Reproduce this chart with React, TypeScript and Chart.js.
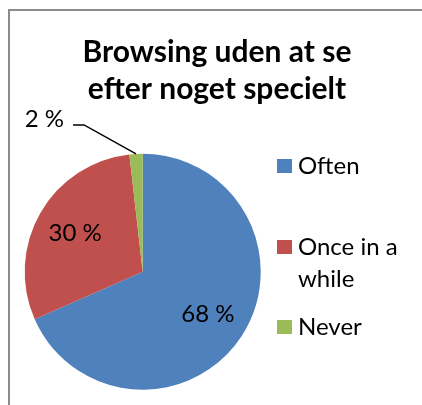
import React, { useEffect, useRef } from "react";
import { Chart, registerables } from "chart.js";

Chart.register(...registerables);

const titleLines = ["Browsing uden at se", "efter noget specielt"];
const categories = ["Often", "Once in a while", "Never"];
const legendLines = [["Often"], ["Once in a", "while"], ["Never"]];
const values = [68.4, 29.8, 1.8];
const valueLabels = ["68 %", "30 %", "2 %"];
const colors = ["#4F81BD", "#C0504D", "#9BBB59"];

const FONT = "Lato, 'Open Sans', sans-serif";

const overlay = {
  id: "overlay",
  afterDraw(chart: any) {
    const ctx = chart.ctx as CanvasRenderingContext2D;
    ctx.save();
    // title
    ctx.fillStyle = "#000";
    ctx.textAlign = "center";
    ctx.textBaseline = "alphabetic";
    ctx.font = `bold 30px ${FONT}`;
    ctx.fillText(titleLines[0], 207, 51);
    ctx.fillText(titleLines[1], 207, 88);

    // data labels
    const meta = chart.getDatasetMeta(0);
    ctx.font = `24px ${FONT}`;
    meta.data.forEach((arc: any, i: number) => {
      const p = arc.getProps(["x", "y", "startAngle", "endAngle", "outerRadius"], true);
      const mid = (p.startAngle + p.endAngle) / 2;
      if (i < 2) {
        const r = p.outerRadius * 0.66;
        const cx = p.x + Math.cos(mid) * r;
        const cy = p.y + Math.sin(mid) * r;
        ctx.textAlign = "center";
        ctx.fillText(valueLabels[i], cx, cy + 8);
      } else {
        const ex = p.x + Math.cos(mid) * p.outerRadius;
        const ey = p.y + Math.sin(mid) * p.outerRadius;
        const ky = ey - 29;
        const kx = ex - 52;
        ctx.strokeStyle = "#000";
        ctx.lineWidth = 1.5;
        ctx.beginPath();
        ctx.moveTo(ex, ey);
        ctx.lineTo(kx, ky);
        ctx.lineTo(kx - 11, ky);
        ctx.stroke();
        ctx.textAlign = "right";
        ctx.fillText(valueLabels[i], kx - 20, ky + 2);
      }
    });

    // legend
    const ys = [163, 244, 324];
    ctx.textAlign = "left";
    legendLines.forEach((lines, i) => {
      ctx.fillStyle = colors[i];
      ctx.fillRect(267, ys[i] - 15, 15, 14);
      ctx.fillStyle = "#000";
      lines.forEach((t, j) => ctx.fillText(t, 288, ys[i] + j * 32));
    });
    ctx.restore();
  },
};

export default function App() {
  const ref = useRef<HTMLCanvasElement | null>(null);
  useEffect(() => {
    if (!ref.current) return;
    const chart = new Chart(ref.current, {
      type: "pie",
      data: {
        labels: categories,
        datasets: [
          {
            data: values,
            backgroundColor: colors,
            borderWidth: 0,
          },
        ],
      },
      options: {
        responsive: false,
        animation: false,
        layout: { padding: { left: 14.7, top: 142.7, right: 161.3, bottom: 15.3 } },
        plugins: {
          legend: { display: false },
          title: { display: false },
          tooltip: { enabled: false },
        },
      },
      plugins: [overlay],
    });
    return () => chart.destroy();
  }, []);
  return (
    <div
      style={{
        position: "fixed",
        left: 8,
        top: 9,
        width: 412,
        height: 394,
        borderLeft: "2px solid #8c8c8c",
        borderTop: "2px solid #8c8c8c",
        background: "#fff",
      }}
    >
      <canvas ref={ref} width={412} height={394} style={{ display: "block" }} />
    </div>
  );
}
